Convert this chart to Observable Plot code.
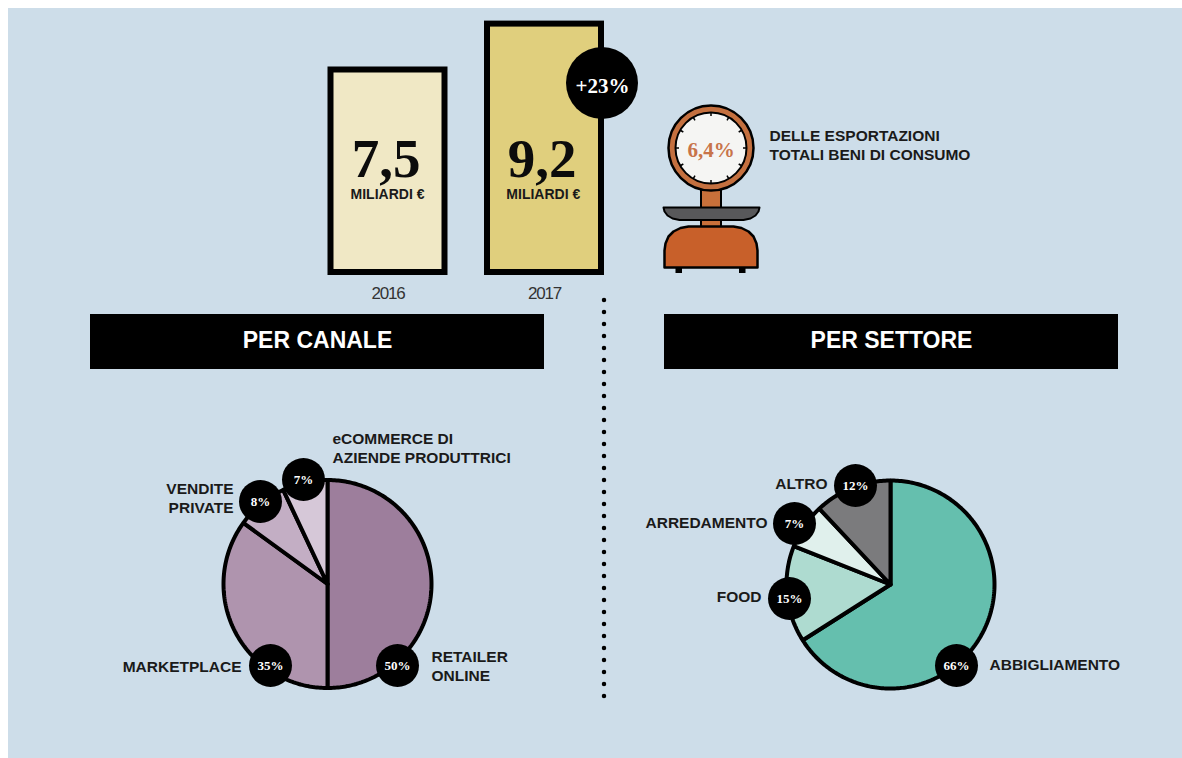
<!DOCTYPE html>
<html lang="it">
<head>
<meta charset="utf-8">
<title>Esportazioni eCommerce beni di consumo</title>
<script src="https://cdn.jsdelivr.net/npm/d3@7"></script>
<script src="https://cdn.jsdelivr.net/npm/@observablehq/plot@0.6"></script>
<style>
  html, body { margin: 0; background: #fff; }
  #sheet { position: relative; width: 1182px; height: 758px; overflow: hidden; }
  #panel { position: absolute; left: 8px; top: 8px; right: 0; bottom: 0; background: #cddde9; }
  #sheet svg { position: absolute; left: 0; top: 0; background: transparent; }
  #sheet svg g[aria-label="x-axis tick label"] text { letter-spacing: -1.2px; }
</style>
</head>
<body>
<div id="sheet"><div id="panel"></div></div>
<script>
// Export value per year, in billions of euro
const years = ["2016", "2017"];
const yearValues = [7.5, 9.2];
const yearColors = ["#f0e8c5", "#e0cf7d"];
const growthLabel = "+23%";
const exportShare = "6,4%";
const exportNote = "DELLE ESPORTAZIONI\nTOTALI BENI DI CONSUMO";

// Breakdown by channel
const channelTitle = "PER CANALE";
const channelNames = ["RETAILER\nONLINE", "MARKETPLACE", "VENDITE\nPRIVATE", "eCOMMERCE DI\nAZIENDE PRODUTTRICI"];
const channelShares = [50, 35, 8, 7];
const channelColors = ["#9d7e9c", "#af94ae", "#c3aec4", "#d6c8d8"];

// Breakdown by sector
const sectorTitle = "PER SETTORE";
const sectorNames = ["ABBIGLIAMENTO", "FOOD", "ARREDAMENTO", "ALTRO"];
const sectorShares = [66, 15, 7, 12];
const sectorColors = ["#65bfae", "#aedbd0", "#e0f0ec", "#7b7b7d"];

const SANS = "'Liberation Sans', Arial, sans-serif";
const SERIF = "'Liberation Serif', 'Times New Roman', serif";
const INK = "#1a1a1a";

// Where each pie and its badges and captions sit on the sheet
const channelPie = {cx: 327, cy: 583.5, r: 104};
const sectorPie = {cx: 890, cy: 584, r: 104};
const channelBadges = [[397, 665], [270, 665], [260, 501], [303, 479]];
const sectorBadges = [[956, 665], [789, 598], [794, 523], [855, 485]];
const channelCaptions = [[431, 665, "start"], [241, 665.5, "end"], [233, 496.5, "end"], [332, 447, "start"]];
const sectorCaptions = [[989, 663, "start"], [761, 595.5, "end"], [767, 521.5, "end"], [827, 482.5, "end"]];

// Closed outline of every slice, walking clockwise from twelve o'clock
function sliceOutlines(names, shares, colors, {cx, cy, r}) {
  const points = [];
  let start = 0;
  shares.forEach((share, i) => {
    const end = start + share;
    const at = (a) => [cx + r * Math.sin(a), cy - r * Math.cos(a)];
    const a0 = start / 100 * 2 * Math.PI, a1 = end / 100 * 2 * Math.PI;
    const steps = Math.ceil(share * 3.6);
    const ring = d3.range(steps + 1).map((k) => at(a0 + (a1 - a0) * k / steps));
    for (const [x, y] of [[cx, cy], ...ring, [cx, cy]]) points.push({name: names[i], color: colors[i], x, y});
    start = end;
  });
  return points;
}

function pieMarks(names, shares, colors, pie, badges, captions) {
  const rows = names.map((name, i) => ({
    name, label: `${shares[i]}%`,
    bx: badges[i][0], by: badges[i][1],
    tx: captions[i][0], ty: captions[i][1], anchor: captions[i][2]
  }));
  return [
    Plot.line(sliceOutlines(names, shares, colors, pie), {
      x: "x", y: "y", z: "name", fill: "color", stroke: "#000", strokeWidth: 4, strokeLinejoin: "miter"
    }),
    Plot.dot(rows, {x: "bx", y: "by", r: 21.5, fill: "#000"}),
    Plot.text(rows, {x: "bx", y: "by", text: "label", fill: "#fff", fontFamily: SERIF, fontWeight: "bold", fontSize: 13}),
    ...["start", "end"].map((anchor) => Plot.text(rows.filter((d) => d.anchor === anchor), {
      x: "tx", y: "ty", text: "name", textAnchor: anchor, fill: INK,
      fontFamily: SANS, fontWeight: "bold", fontSize: 15.5, lineHeight: 1.25
    }))
  ];
}

const bars = years.map((year, i) => ({year, value: yearValues[i], color: yearColors[i]}));

// Yearly bars on a true value scale, with the years as the axis
const barPlot = Plot.plot({
  width: 1182, height: 320,
  marginTop: 2, marginBottom: 48, marginLeft: 0, marginRight: 0,
  x: {type: "band", domain: years, range: [330.5, 601], paddingInner: 0.2716, paddingOuter: 0, round: false, label: null},
  y: {domain: [0, 10], axis: null},
  color: {type: "identity"},
  marks: [
    Plot.barY(bars, {x: "year", y: "value", fill: "color", stroke: "#000", strokeWidth: 6}),
    Plot.axisX({tickSize: 0, tickPadding: 14, label: null, fontSize: 17, fontFamily: SANS, color: "#333"})
  ]
});

// Scale icon: dial, stem, pan and body
const dial = {x: 710.5, y: 147.5};
const dialTicks = d3.range(12).map((k) => {
  const a = k / 12 * 2 * Math.PI;
  return {x1: dial.x + 32 * Math.sin(a), y1: dial.y - 32 * Math.cos(a), x2: dial.x + 35.5 * Math.sin(a), y2: dial.y - 35.5 * Math.cos(a)};
});
const panOutline = [[663, 207], [759, 207], [758, 211], [755, 215], [750, 218], [743, 219.5], [679, 219.5], [672, 218], [667, 215], [664, 211], [663, 207]]
  .map(([x, y]) => ({x, y}));
const bodyOutline = [[664, 267], [664, 250], [665, 243], [668, 236], [673, 231], [680, 227.5], [688, 226], [733, 226], [741, 227.5], [748, 231], [753, 236], [756, 243], [757, 250], [757, 267], [664, 267]]
  .map(([x, y]) => ({x, y}));

// Everything drawn on sheet coordinates sits above the bars
const sheetPlot = Plot.plot({
  width: 1182, height: 758,
  margin: 0,
  x: {domain: [0, 1182], range: [0, 1182], axis: null},
  y: {domain: [0, 758], range: [0, 758], axis: null},
  color: {type: "identity"},
  marks: [
    // Value labels inside the bars
    Plot.text(bars, {
      x: [385.5, 541.5], y: [158.4, 158.4], text: (d) => String(d.value).replace(".", ","),
      fontFamily: SERIF, fontWeight: "bold", fontSize: 55, fill: "#0c0c0c"
    }),
    Plot.text(bars, {
      x: [387, 542.8], y: [194.5, 194.5], text: () => "MILIARDI €",
      fontFamily: SANS, fontWeight: "bold", fontSize: 14, fill: INK
    }),
    // Growth badge
    Plot.dot([0], {x: () => 601.5, y: () => 82.5, r: 36, fill: "#000"}),
    Plot.text([growthLabel], {x: () => 602, y: () => 86, text: (d) => d, fontFamily: SERIF, fontWeight: "bold", fontSize: 21, fill: "#fff"}),

    // Scale icon
    Plot.rect([0], {x1: () => 701, x2: () => 721, y1: () => 189, y2: () => 228, fill: "#c8703a", stroke: "#000", strokeWidth: 2}),
    Plot.line(panOutline, {x: "x", y: "y", fill: "#58585a", stroke: "#000", strokeWidth: 2}),
    Plot.line(bodyOutline, {x: "x", y: "y", fill: "#c8602a", stroke: "#000", strokeWidth: 2.5}),
    Plot.rect([[675.5, 682], [739, 745.5]], {x1: (d) => d[0], x2: (d) => d[1], y1: () => 268, y2: () => 273, fill: "#000"}),
    Plot.dot([0], {x: () => dial.x, y: () => dial.y, r: 42.5, fill: "#c4703f", stroke: "#000", strokeWidth: 2.5}),
    Plot.dot([0], {x: () => dial.x, y: () => dial.y, r: 35.5, fill: "#f5f5f3", stroke: "#000", strokeWidth: 2}),
    Plot.link(dialTicks, {x1: "x1", y1: "y1", x2: "x2", y2: "y2", stroke: "#000", strokeWidth: 1.5}),
    Plot.text([exportShare], {x: () => dial.x, y: () => 149.5, text: (d) => d, fontFamily: SERIF, fontWeight: "bold", fontSize: 21, fill: "#c8744a"}),
    Plot.text([exportNote], {x: () => 769, y: () => 144, text: (d) => d, textAnchor: "start", fontFamily: SANS, fontWeight: "bold", fontSize: 15.5, lineHeight: 1.25, fill: INK}),

    // Section headers and the dotted divider
    Plot.rect([[90, 544], [664, 1118]], {x1: (d) => d[0], x2: (d) => d[1], y1: () => 314, y2: () => 369, fill: "#000"}),
    Plot.text([channelTitle, sectorTitle], {x: [317, 891], y: [340.5, 340.5], text: (d) => d, fontFamily: SANS, fontWeight: "bold", fontSize: 23, fill: "#fff"}),
    Plot.ruleX([603.5], {y1: () => 300, y2: () => 696.5, stroke: "#000", strokeWidth: 4.5, strokeLinecap: "round", strokeDasharray: "0 12"}),

    // Pies
    ...pieMarks(channelNames, channelShares, channelColors, channelPie, channelBadges, channelCaptions),
    ...pieMarks(sectorNames, sectorShares, sectorColors, sectorPie, sectorBadges, sectorCaptions)
  ]
});

document.getElementById("sheet").append(barPlot, sheetPlot);
</script>
</body>
</html>
